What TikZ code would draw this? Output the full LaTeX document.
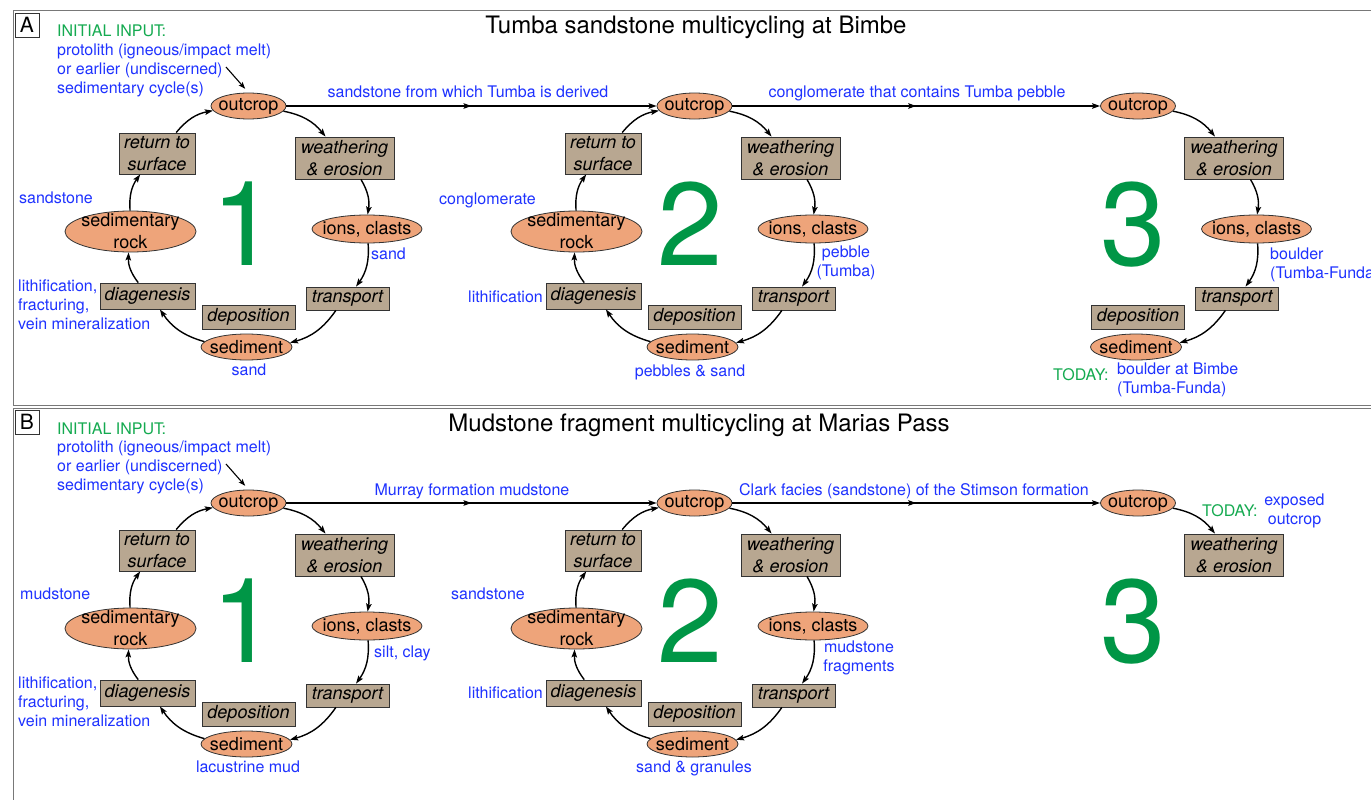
\documentclass[tikz,border=0pt]{standalone}
\usepackage{fontspec}
\setmainfont{TeX Gyre Heros}
\usetikzlibrary{shapes.geometric,arrows.meta,decorations.markings}
\definecolor{ellfill}{RGB}{238,164,122}
\definecolor{boxfill}{RGB}{184,167,145}
\definecolor{bluetxt}{RGB}{30,50,255}
\definecolor{greentxt}{RGB}{20,170,80}
\definecolor{biggreen}{RGB}{0,150,70}
\definecolor{framegray}{RGB}{120,120,120}
\newcommand\lblfont{\fontsize{16}{19}\selectfont}
\newcommand\nodefont{\fontsize{18}{22}\selectfont}
\tikzset{
 ell/.style={ellipse, draw=black!80, line width=0.8pt, fill=ellfill, inner sep=0pt},
 elltxt/.style={font=\nodefont, align=center, inner sep=0pt, text=black},
 stagebox/.style={rectangle, draw=black!80, line width=0.8pt, fill=boxfill, inner sep=0pt, font=\nodefont\itshape, align=center},
 cycarrow/.style={line width=1.4pt, -{Stealth[length=8pt,width=5.5pt,inset=1.5pt]}, bend left=20},
 bl/.style={text=bluetxt, font=\lblfont, inner sep=0pt},
 gl/.style={text=greentxt, font=\lblfont, inner sep=0pt},
 bignum/.style={text=biggreen, font=\fontsize{118}{120}\selectfont, inner sep=0pt, anchor=base},
 linkarrow/.style={line width=1.4pt, -{Stealth[length=8pt,width=5.5pt,inset=1.5pt]}, postaction={decorate}, decoration={markings, mark=at position 0.5 with {\arrow{Stealth[length=8pt,width=5.5pt,inset=1.5pt]}}}},
 inarr/.style={line width=1.1pt, -{Stealth[length=7pt,width=5pt,inset=1.5pt]}, shorten >=5pt},
 panelframe/.style={draw=framegray, line width=1pt},
 tagbox/.style={draw=black!80, line width=0.8pt, minimum size=24pt, inner sep=0pt, font=\fontsize{21}{24}\selectfont},
 titletxt/.style={font=\fontsize{24}{28}\selectfont, inner sep=0pt, anchor=base},
}
% #1 prefix, #2 dx, #3 dy, #4 cycle number
\newcommand\fullcyc[4]{%
\begin{scope}[shift={(#2,#3)}]
 \node[ell, minimum width=75pt, minimum height=26pt, label={[elltxt]center:outcrop}] (#1o) at (248.5,106) {};
 \node[stagebox, minimum width=99pt, minimum height=42pt] (#1w) at (344.5,158) {weathering\\\& erosion};
 \node[ell, minimum width=110pt, minimum height=28pt, label={[elltxt]center:{ions, clasts}}] (#1i) at (367,229) {};
 \node[stagebox, minimum width=83pt, minimum height=23pt] (#1t) at (347.5,298.5) {transport};
 \node[stagebox, minimum width=93pt, minimum height=24pt] (#1dp) at (248.5,317) {deposition};
 \node[ell, minimum width=91pt, minimum height=26pt, label={[elltxt]center:sediment}] (#1s) at (246.5,347) {};
 \node[stagebox, minimum width=95pt, minimum height=26pt] (#1dg) at (147.5,296) {diagenesis};
 \node[ell, minimum width=131pt, minimum height=41pt, label={[elltxt]center:{sedimentary\\rock}}] (#1r) at (130.5,231.5) {};
 \node[stagebox, minimum width=76pt, minimum height=41pt] (#1rt) at (157,153.5) {return to\\surface};
 \draw[cycarrow] (#1o) to (#1w);
 \draw[cycarrow] (#1w) to (#1i);
 \draw[cycarrow] (#1i) to (#1t);
 \draw[cycarrow] (#1t) to (#1s);
 \draw[cycarrow] (#1s) to (#1dg);
 \draw[cycarrow] (#1dg) to (#1r);
 \draw[cycarrow] (#1r) to (#1rt);
 \draw[cycarrow] (#1rt) to (#1o);
 \node[bignum] (#1num) at (244,265) {#4};
\end{scope}}
\begin{document}
\begin{tikzpicture}[x=1pt,y=-1pt]
\useasboundingbox (0,0) rectangle (1371,800);
\fill[white] (0,0) rectangle (1371,800);
% ---------- frames ----------
\draw[panelframe] (13,11) rectangle (1390,405);
\draw[panelframe] (13,408) rectangle (1390,815);
\node[tagbox] (tagA) at (27,25) {A};
\node[tagbox] (tagB) at (27,422) {B};
\node[titletxt] (ttlA) at (696,34) {Tumba sandstone multicycling at Bimbe};
\node[titletxt] (ttlB) at (699,431) {Mudstone fragment multicycling at Marias Pass};
% ---------- panel A ----------
\fullcyc{aa}{0}{0}{1}
\fullcyc{ab}{446}{0}{2}
\begin{scope}[shift={(889.5,0)}]
 \node[ell, minimum width=75pt, minimum height=26pt, label={[elltxt]center:outcrop}] (aco) at (248.5,106) {};
 \node[stagebox, minimum width=99pt, minimum height=42pt] (acw) at (344.5,158) {weathering\\\& erosion};
 \node[ell, minimum width=110pt, minimum height=28pt, label={[elltxt]center:{ions, clasts}}] (aci) at (367,229) {};
 \node[stagebox, minimum width=83pt, minimum height=23pt] (act) at (347.5,298.5) {transport};
 \node[stagebox, minimum width=93pt, minimum height=24pt] (acdp) at (248.5,317) {deposition};
 \node[ell, minimum width=91pt, minimum height=26pt, label={[elltxt]center:sediment}] (acs) at (246.5,347) {};
 \draw[cycarrow] (aco) to (acw);
 \draw[cycarrow] (acw) to (aci);
 \draw[cycarrow] (aci) to (act);
 \draw[cycarrow] (act) to (acs);
 \node[bignum] (acnum) at (244,265) {3};
\end{scope}
\draw[linkarrow] (aao) -- (abo);
\draw[linkarrow] (abo) -- (aco);
\node[bl, anchor=base] (la1) at (468,98) {sandstone from which Tumba is derived};
\node[bl, anchor=base] (la2) at (917,98) {conglomerate that contains Tumba pebble};
\node[gl, anchor=base west] (aig) at (57,37) {INITIAL INPUT:};
\node[bl, anchor=west, align=left] (aib) at (57,70) {protolith (igneous/impact melt)\\or earlier (undiscerned)\\sedimentary cycle(s)};
\coordinate (ainp) at (226,67);
\draw[inarr] (ainp) -- (aao.north);
\node[bl, anchor=base west] (a1ss) at (19,203) {sandstone};
\node[bl, anchor=west, align=left] (a1lf) at (18,305) {lithification,\\fracturing,\\vein mineralization};
\node[bl, anchor=base west] (a1sa) at (371,259) {sand};
\node[bl, anchor=base] (a1sb) at (249,375) {sand};
\node[bl, anchor=base west] (a2cg) at (439,204) {conglomerate};
\node[bl, anchor=center, align=center] (a2pb) at (846,263) {pebble\\(Tumba)};
\node[bl, anchor=base west] (a2lf) at (468,302) {lithification};
\node[bl, anchor=base] (a2ps) at (690,376) {pebbles \& sand};
\node[bl, anchor=west, align=left] (a3bd) at (1270,265) {boulder\\(Tumba-Funda)};
\node[gl, anchor=base west] (a3td) at (1053,380) {TODAY:};
\node[bl, anchor=west, align=left] (a3bb) at (1117,380) {boulder at Bimbe\\(Tumba-Funda)};
% ---------- panel B ----------
\fullcyc{ba}{0}{397}{1}
\fullcyc{bb}{446}{397}{2}
\begin{scope}[shift={(889.5,397)}]
 \node[ell, minimum width=75pt, minimum height=26pt, label={[elltxt]center:outcrop}] (bco) at (248.5,106) {};
 \node[stagebox, minimum width=99pt, minimum height=42pt] (bcw) at (344.5,158) {weathering\\\& erosion};
 \draw[cycarrow] (bco) to (bcw);
 \node[bignum] (bcnum) at (244,265) {3};
\end{scope}
\draw[linkarrow] (bao) -- (bbo);
\draw[linkarrow] (bbo) -- (bco);
\node[bl, anchor=base] (lb1) at (472,495) {Murray formation mudstone};
\node[bl, anchor=base] (lb2) at (914,495) {Clark facies (sandstone) of the Stimson formation};
\node[gl, anchor=base west] (big) at (57,434) {INITIAL INPUT:};
\node[bl, anchor=west, align=left] (bib) at (57,467) {protolith (igneous/impact melt)\\or earlier (undiscerned)\\sedimentary cycle(s)};
\coordinate (binp) at (226,464);
\draw[inarr] (binp) -- (bao.north);
\node[bl, anchor=base west] (b1ms) at (20,599) {mudstone};
\node[bl, anchor=west, align=left] (b1lf) at (18,702) {lithification,\\fracturing,\\vein mineralization};
\node[bl, anchor=base west] (b1sc) at (374,657) {silt, clay};
\node[bl, anchor=base] (b1lm) at (248,772) {lacustrine mud};
\node[bl, anchor=base west] (b2ss) at (451,599) {sandstone};
\node[bl, anchor=center, align=center] (b2mf) at (859,658) {mudstone\\fragments};
\node[bl, anchor=base west] (b2lf) at (468,698) {lithification};
\node[bl, anchor=base] (b2sg) at (694,772) {sand \& granules};
\node[gl, anchor=base west] (b3td) at (1202,516) {TODAY:};
\node[bl, anchor=center, align=center] (b3eo) at (1294.5,511) {exposed\\outcrop};
\end{tikzpicture}
\end{document}
